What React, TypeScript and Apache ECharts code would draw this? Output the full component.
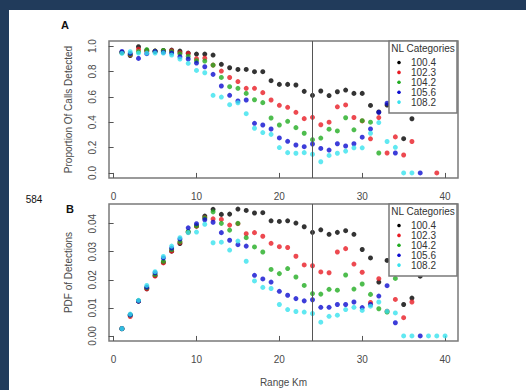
import React, { useEffect, useRef } from "react";
import * as echarts from "echarts";

const KM = [1, 2, 3, 4, 5, 6, 7, 8, 9, 10, 11, 12, 13, 14, 15, 16, 17, 18, 19, 20, 21, 22, 23, 24, 25, 26, 27, 28, 29, 30, 31, 32, 33, 34, 35, 36, 37, 38, 39, 40];
const LEVELS = ["100.4", "102.3", "104.2", "105.6", "108.2"];
const COLORS = ["#000000", "#e81c24", "#22ac22", "#0c0cd0", "#38e2ee"];
const X_TICKS = [0, 10, 20, 30, 40];
const A_TICKS = [0, 0.2, 0.4, 0.6, 0.8, 1.0];
const B_TICKS = [0, 0.01, 0.02, 0.03, 0.04];
const CUTOFF_KM = 24;

// Panel A: proportion of calls detected, by km 1..40
const A_100_4 = [0.95, 0.925, 0.995, 0.965, 0.96, 0.965, 0.968, 0.96, 0.945, 0.937, 0.937, 0.929, 0.856, 0.829, 0.816, 0.816, 0.798, 0.798, 0.727, 0.698, 0.698, 0.693, 0.643, 0.612, 0.646, 0.61, 0.64, 0.653, 0.627, 0.627, 0.532, 0.48, 0.535, 0.55, 0.27, 0.427, 0.6, null, null, null];
const A_102_3 = [0.95, 0.93, 0.975, 0.96, 0.96, 0.96, 0.963, 0.948, 0.942, 0.9, 0.905, 0.85, 0.803, 0.752, 0.72, 0.667, 0.667, 0.633, 0.575, 0.533, 0.517, 0.478, 0.428, 0.438, 0.38, 0.4, 0.521, 0.536, 0.437, 0.41, 0.269, 0.436, 0.157, 0.284, 0.141, 0.248, null, null, 0.0, null];
const A_104_2 = [0.95, 0.935, 0.955, 0.972, 0.96, 0.965, 0.955, 0.94, 0.92, 0.885, 0.882, 0.85, 0.753, 0.68, 0.667, 0.627, 0.577, 0.554, 0.433, 0.378, 0.407, 0.357, 0.313, 0.262, 0.275, 0.345, 0.331, 0.435, 0.34, 0.412, 0.4, 0.157, null, null, null, null, null, null, null, null];
const A_105_6 = [0.958, 0.942, 0.903, 0.94, 0.958, 0.95, 0.945, 0.916, 0.898, 0.866, 0.837, 0.777, 0.685, 0.612, 0.567, 0.575, 0.391, 0.378, 0.346, 0.276, 0.249, 0.22, 0.207, 0.228, 0.193, 0.18, 0.23, 0.212, 0.23, 0.282, 0.347, 0.478, 0.549, 0.157, null, null, 0.0, null, null, null];
const A_108_2 = [0.942, 0.955, 0.945, 0.945, 0.945, 0.945, 0.929, 0.898, 0.864, 0.808, 0.79, 0.612, 0.598, 0.538, 0.553, 0.467, 0.352, 0.318, 0.304, 0.2, 0.16, 0.155, 0.16, 0.147, 0.088, 0.138, 0.155, 0.172, 0.198, 0.198, 0.313, 0.397, 0.248, 0.202, 0.0, 0.0, null, null, null, null];

// Panel B: PDF of detections, by km 1..40
const B_100_4 = [0.0026, 0.0075, 0.0124, 0.0168, 0.0215, 0.0262, 0.0302, 0.0329, 0.037, 0.0392, 0.0427, 0.0451, 0.0433, 0.0434, 0.0452, 0.0447, 0.0438, 0.0439, 0.041, 0.0408, 0.041, 0.0402, 0.0389, 0.0369, 0.0378, 0.0362, 0.0369, 0.0375, 0.0362, 0.0308, 0.0278, 0.0192, 0.0269, 0.025, 0.0112, 0.0135, 0.0213, null, null, null];
const B_102_3 = [0.0026, 0.0069, 0.0124, 0.0168, 0.0213, 0.026, 0.0302, 0.0333, 0.037, 0.039, 0.0421, 0.0417, 0.0415, 0.0395, 0.04, 0.0364, 0.0368, 0.0355, 0.033, 0.0318, 0.0315, 0.0284, 0.0253, 0.025, 0.0228, 0.0225, 0.0299, 0.0311, 0.0256, 0.0227, 0.0119, 0.0204, 0.0088, 0.013, 0.0065, 0.0121, null, null, null, null];
const B_104_2 = [0.0026, 0.0074, 0.0125, 0.0172, 0.0219, 0.0266, 0.0308, 0.0336, 0.0372, 0.0392, 0.042, 0.0442, 0.0401, 0.0377, 0.0401, 0.035, 0.0317, 0.0299, 0.0237, 0.0222, 0.024, 0.021, 0.018, 0.0151, 0.0149, 0.0166, 0.0163, 0.0217, 0.0167, 0.0185, 0.0148, 0.0097, 0.0085, 0.0205, null, null, null, null, null, null];
const B_105_6 = [0.0026, 0.0075, 0.0124, 0.0174, 0.0225, 0.0278, 0.0313, 0.0345, 0.0385, 0.04, 0.0414, 0.0405, 0.0368, 0.0341, 0.0325, 0.032, 0.0216, 0.0203, 0.0192, 0.0159, 0.0145, 0.0133, 0.0125, 0.0129, 0.0102, 0.0102, 0.0112, 0.0112, 0.0121, 0.0101, 0.0112, 0.0142, 0.0179, 0.0047, null, null, 0.0, null, null, null];
const B_108_2 = [0.0026, 0.0078, 0.0127, 0.018, 0.0229, 0.0283, 0.032, 0.035, 0.0368, 0.037, 0.0398, 0.0332, 0.0334, 0.0306, 0.0338, 0.0266, 0.0196, 0.0173, 0.0169, 0.0112, 0.0094, 0.0087, 0.0085, 0.008, 0.0049, 0.007, 0.0074, 0.0094, 0.0102, 0.0091, 0.0106, 0.0121, 0.0088, 0.0082, 0.0, 0.0, null, 0.0, 0.0, 0.0];

const A_SERIES = [A_100_4, A_102_3, A_104_2, A_105_6, A_108_2];
const B_SERIES = [B_100_4, B_102_3, B_104_2, B_105_6, B_108_2];

const FONT = "'Liberation Sans', Arial, sans-serif";
const TXT = "#4a4a4a";

function pairs(vals: (number | null)[]) {
  const out: number[][] = [];
  KM.forEach((k, i) => {
    const v = vals[i];
    if (v !== null && v !== undefined) out.push([k, v]);
  });
  return out;
}

function xAxisCfg(gridIndex: number, withName: boolean) {
  return {
    type: "value",
    gridIndex,
    min: -0.56,
    max: 41.56,
    axisLine: { show: false },
    splitLine: { show: false },
    axisTick: { show: true, length: 5, customValues: X_TICKS, lineStyle: { color: "#555", width: 1 } },
    axisLabel: { customValues: X_TICKS, margin: 13, fontSize: 10, color: TXT, fontFamily: FONT },
    name: withName ? "Range Km" : "",
    nameLocation: "middle",
    nameGap: 36,
    nameTextStyle: { fontSize: 10, color: TXT, fontFamily: FONT },
  };
}

function yAxisCfg(gridIndex: number, min: number, max: number, ticks: number[], digits: number, name: string) {
  return {
    type: "value",
    gridIndex,
    min,
    max,
    axisLine: { show: false },
    splitLine: { show: false },
    axisTick: { show: true, length: 5, customValues: ticks, lineStyle: { color: "#555", width: 1 } },
    axisLabel: {
      customValues: ticks,
      rotate: 90,
      margin: 12,
      fontSize: 10,
      color: TXT,
      fontFamily: FONT,
      formatter: (v: number) => v.toFixed(digits),
    },
    name,
    nameLocation: "middle",
    nameRotate: 90,
    nameGap: 36,
    nameTextStyle: { fontSize: 10, color: TXT, fontFamily: FONT },
  };
}

function legendGraphic(x: number, y: number, h: number) {
  const children: any[] = [
    { type: "rect", shape: { x, y, width: 68, height: h }, style: { fill: "#fff", stroke: "#7a7a7a", lineWidth: 1.5 }, z: 50 },
    { type: "text", x: x + 34, y: y + 7.5, style: { text: "NL Categories", fontSize: 10, fontFamily: FONT, fill: "#333", align: "center", verticalAlign: "middle" }, z: 51 },
  ];
  LEVELS.forEach((lv, i) => {
    const cy = y + 21.5 + i * 9.9;
    children.push({ type: "circle", shape: { cx: x + 10, cy, r: 1.8 }, style: { fill: COLORS[i] }, z: 51 });
    children.push({ type: "text", x: x + 22, y: cy, style: { text: lv, fontSize: 10, fontFamily: FONT, fill: "#333", align: "left", verticalAlign: "middle" }, z: 51 });
  });
  return children;
}

export default function App() {
  const ref = useRef<HTMLDivElement>(null);
  useEffect(() => {
    if (!ref.current) return;
    const chart = echarts.init(ref.current, undefined, { renderer: "svg" });
    const series: any[] = [];
    [A_SERIES, B_SERIES].forEach((set, p) => {
      set.forEach((vals, i) => {
        const s: any = {
          type: "scatter",
          name: LEVELS[i],
          xAxisIndex: p,
          yAxisIndex: p,
          data: pairs(vals),
          symbol: "circle",
          symbolSize: 5,
          itemStyle: { color: COLORS[i] },
          silent: true,
        };
        if (i === 0) {
          s.markLine = {
            silent: true,
            symbol: ["none", "none"],
            label: { show: false },
            lineStyle: { color: "#555", width: 1, type: "solid" },
            data: [{ xAxis: CUTOFF_KM }],
          };
        }
        series.push(s);
      });
    });
    chart.setOption({
      animation: false,
      backgroundColor: "#ffffff",
      grid: [
        { left: 100, top: 31, width: 349, height: 137, show: true, borderColor: "#7a7a7a", borderWidth: 1.5, backgroundColor: "transparent" },
        { left: 100, top: 194, width: 349, height: 137, show: true, borderColor: "#7a7a7a", borderWidth: 1.5, backgroundColor: "transparent" },
      ],
      xAxis: [xAxisCfg(0, false), xAxisCfg(1, true)],
      yAxis: [
        yAxisCfg(0, -0.04, 1.04, A_TICKS, 1, "Proportion Of Calls Detected"),
        yAxisCfg(1, -0.0018, 0.047, B_TICKS, 2, "PDF of Detections"),
      ],
      series,
      graphic: [
        { type: "text", x: 56, y: 15, style: { text: "A", fontSize: 11, fontWeight: "bold", fontFamily: FONT, fill: "#111", align: "center", verticalAlign: "middle" }, z: 60 },
        { type: "text", x: 61, y: 199, style: { text: "B", fontSize: 11, fontWeight: "bold", fontFamily: FONT, fill: "#111", align: "center", verticalAlign: "middle" }, z: 60 },
        { type: "text", x: 25, y: 189, style: { text: "584", fontSize: 10, fontFamily: FONT, fill: "#111", align: "center", verticalAlign: "middle" }, z: 60 },
        ...legendGraphic(380, 31, 72),
        ...legendGraphic(380, 194, 72),
      ],
    });
    return () => chart.dispose();
  }, []);
  return (
    <div style={{ position: "fixed", left: 0, top: 0, width: 526, height: 390, background: "#213b5b", overflow: "hidden" }}>
      <div ref={ref} style={{ position: "absolute", left: 9, top: 10, width: 517, height: 380, background: "#fff" }} />
    </div>
  );
}
